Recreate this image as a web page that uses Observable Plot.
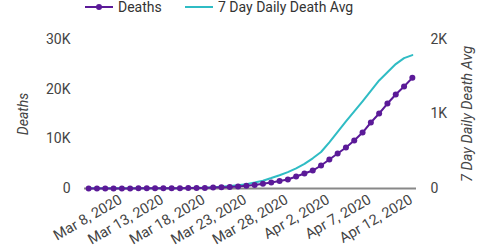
<!DOCTYPE html>
<html><head><meta charset="utf-8">
<script src="https://cdn.jsdelivr.net/npm/d3@7"></script>
<script src="https://cdn.jsdelivr.net/npm/@observablehq/plot@0.6"></script>
<style>
body{margin:0;background:#fff;font-family:Roboto,sans-serif;width:477px;height:250px;overflow:hidden}
#legend{height:20px;position:relative;font-size:14px;color:#333}
.lg{position:absolute;top:-2px;display:flex;align-items:center;height:18px;white-space:nowrap}
.lg svg{margin-right:5px}
</style></head><body>
<div id="legend"></div><div id="chart"></div>
<script>
const dates = ["2020-03-04","2020-03-05","2020-03-06","2020-03-07","2020-03-08","2020-03-09","2020-03-10","2020-03-11","2020-03-12","2020-03-13","2020-03-14","2020-03-15","2020-03-16","2020-03-17","2020-03-18","2020-03-19","2020-03-20","2020-03-21","2020-03-22","2020-03-23","2020-03-24","2020-03-25","2020-03-26","2020-03-27","2020-03-28","2020-03-29","2020-03-30","2020-03-31","2020-04-01","2020-04-02","2020-04-03","2020-04-04","2020-04-05","2020-04-06","2020-04-07","2020-04-08","2020-04-09","2020-04-10","2020-04-11","2020-04-12"];
const deaths = [11,12,14,17,21,22,28,36,40,47,54,63,85,108,118,200,244,307,427,552,706,942,1209,1500,1810,2420,3020,3620,4630,5840,7050,8250,9660,11270,13290,15100,17110,18920,20530,22280];
const avgDeaths = [2,2,2,2,2,2,2,3,3,4,5,5,7,9,11,17,24,33,44,58,80,105,140,178,220,270,330,405,490,620,760,900,1035,1170,1310,1450,1560,1670,1750,1790];
const seriesNames = ["Deaths","7 Day Daily Death Avg"];
const colors = ["#5b1a98","#2fbcc4"];
const leftTicks = [0,10000,20000,30000];
const leftTickLabels = ["0","10K","20K","30K"];
const rightTicks = [0,1000,2000];
const rightTickLabels = ["0","1K","2K"];
const xTicks = ["2020-03-08","2020-03-13","2020-03-18","2020-03-23","2020-03-28","2020-04-02","2020-04-07","2020-04-12"];
const xTickLabels = ["Mar 8, 2020","Mar 13, 2020","Mar 18, 2020","Mar 23, 2020","Mar 28, 2020","Apr 2, 2020","Apr 7, 2020","Apr 12, 2020"];
const ratio = 15; // right axis: 2K ↔ 30K

const parse = d3.utcParse("%Y-%m-%d");
const rows = dates.map((d,i)=>({date:parse(d), deaths:deaths[i], avg:avgDeaths[i]}));
const leftMap = new Map(leftTicks.map((v,i)=>[v,leftTickLabels[i]]));
const rightMap = new Map(rightTicks.map((v,i)=>[v*ratio,rightTickLabels[i]]));
const xMap = new Map(xTicks.map((v,i)=>[+parse(v),xTickLabels[i]]));

// legend
const legend = document.getElementById("legend");
const lefts = [85,185];
seriesNames.forEach((n,i)=>{
  const el = document.createElement("div");
  el.className="lg"; el.style.left=lefts[i]+"px";
  el.innerHTML = `<svg width="28" height="10"><line x1="0" x2="28" y1="5" y2="5" stroke="${colors[i]}" stroke-width="2"/>${i===0?`<circle cx="14" cy="5" r="3" fill="${colors[i]}"/>`:""}</svg><span>${n}</span>`;
  legend.appendChild(el);
});

const x0 = d3.utcHour.offset(parse(dates[0]),-12);
const x1 = d3.utcHour.offset(parse(dates[dates.length-1]),12);

const chart = Plot.plot({
  width:477, height:230,
  marginLeft:84, marginRight:61, marginTop:19, marginBottom:62,
  style:{fontFamily:"Roboto, sans-serif", fontSize:"14px", color:"#444", background:"#fff"},
  x:{type:"utc", domain:[x0,x1]},
  y:{domain:[0,30000]},
  marks:[
    Plot.axisY(leftTicks,{anchor:"left", tickSize:0, tickPadding:14, tickFormat:d=>leftMap.get(d), fontSize:14, label:null}),
    Plot.axisY(rightTicks.map(v=>v*ratio),{anchor:"right", tickSize:0, tickPadding:14, tickFormat:d=>rightMap.get(d), fontSize:14, label:null}),
    Plot.axisX(xTicks.map(parse),{tickSize:0, tickRotate:-30, tickPadding:10, dx:-1, tickFormat:d=>xMap.get(+d), fontSize:14.5, label:null}),
    Plot.ruleY([0],{stroke:"#888", strokeWidth:2}),
    Plot.line(rows,{x:"date", y:d=>d.avg*ratio, stroke:colors[1], strokeWidth:2}),
    Plot.line(rows,{x:"date", y:"deaths", stroke:colors[0], strokeWidth:2}),
    Plot.dot(rows,{x:"date", y:"deaths", r:3, fill:colors[0]}),
    Plot.text([seriesNames[0]],{text:d=>d, frameAnchor:"left", textAnchor:"middle", dx:-61, rotate:-90, fontStyle:"italic", fontSize:14, fill:"#444"}),
    Plot.text([seriesNames[1]],{text:d=>d, frameAnchor:"right", textAnchor:"middle", dx:51, rotate:-90, fontStyle:"italic", fontSize:14.5, fill:"#444"})
  ]
});
document.getElementById("chart").appendChild(chart);
</script>
</body></html>
